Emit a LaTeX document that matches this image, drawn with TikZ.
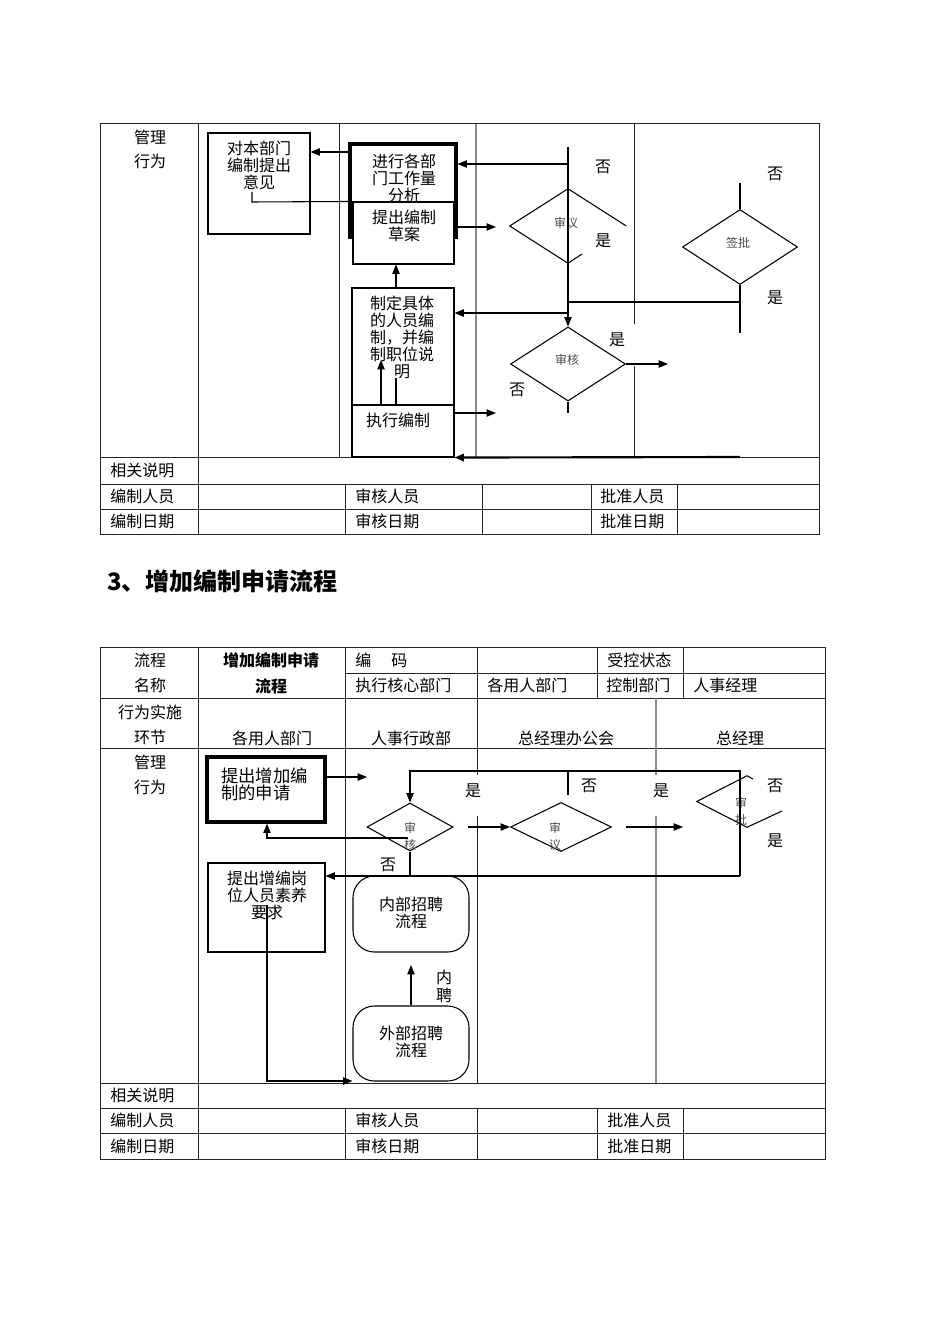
\documentclass[tikz,border=0pt]{standalone}
\usepackage{fontspec}
\setmainfont{Noto Sans CJK SC}
\usetikzlibrary{arrows.meta,shapes.geometric,fit}
\begin{document}
\begin{tikzpicture}[x=0.75pt,y=-0.75pt,
 tl/.style={line width=0.75pt, black!85},
 gl/.style={line width=0.9pt, black!45},
 ln/.style={line width=0.8pt},
 thk/.style={line width=1.6pt},
 arr/.style={ln, -{Triangle[length=7pt,width=5.5pt]}},
 bx/.style={draw, line width=0.8pt, inner sep=0pt, fill=white},
 tbx/.style={draw, line width=2.4pt, inner sep=0pt},
 rbx/.style={draw, line width=0.8pt, inner sep=0pt, rounded corners=16pt},
 t/.style={font=\fontsize{12}{12.75}\selectfont, inner sep=0pt, align=center},
 tw/.style={t, anchor=west},
 s/.style={font=\fontsize{9}{12.75}\selectfont, inner sep=0pt, align=center, text=black!70},
 dm/.style n args={2}{diamond, inner sep=0pt, minimum width=#1*0.75pt, minimum height=#2*0.75pt}
]
\useasboundingbox[fill=white] (0,0) rectangle (950,1344);

% ================= TOP TABLE =================
\draw[tl] (100,124) rectangle (819,534);
\draw[tl] (198,124) -- (198,534);
\draw[tl] (100,457) -- (819,457);
\draw[tl] (100,484) -- (819,484);
\draw[tl] (100,509) -- (819,509);
\foreach \xx in {345,482,591,677} \draw[tl] (\xx,484) -- (\xx,534);
\draw[tl] (339,124) -- (339,457);
\draw[gl] (476,124) -- (476,457);
\draw[tl] (634,124) -- (634,324);
\draw[tl] (634,366) -- (634,457);

\node[t] (gl1) at (150,137) {管理};
\node[t] (gl2) at (150,161) {行为};

% boxes
\node[bx, fit={(208,133) (310,234)}] (A) {};
\node[t] (At) at (259,165) {对本部门\\编制提出\\意见};
\node[tbx, fit={(350,144) (456,237)}] (B) {};
\node[t] (Bt) at (404,178) {进行各部\\门工作量\\分析};
\node[bx, fit={(353,202) (454,264)}] (C) {};
\node[t] (Ct) at (404,226) {提出编制\\草案};
\node[bx, fit={(352,288) (454,405)}] (D) {};
\node[t] (Dt) at (402,337) {制定具体\\的人员编\\制，并编\\制职位说\\明};
\node[bx, fit={(352,405) (454,457)}] (E) {};
\node[t] (Et) at (398,420) {执行编制};

% diamonds
\node[dm={116}{74}] (SY) at (568,226) {};
\node[s] (SYt) at (566,223) {审议};
\draw[ln] (SY.south) -- (SY.west) -- (SY.north) -- (SY.east);
\draw[ln] (SY.south) -- (582,254);
\node[dm={115}{75}, draw, ln] (QP) at (740,247) {};
\node[s] (QPt) at (738,243) {签批};
\node[dm={115}{74}, draw, ln] (SH) at (568,364) {};
\node[s] (SHt) at (567,360) {审核};

% connectors
\draw[arr] (B.west |- 0,152) -- (A.east |- 0,152);
\coordinate (a1) at (252,192);
\draw[ln] (a1) -- (252,202) -- (C.north west);
\draw[arr] (D.north -| 396,0) -- (C.south -| 396,0);
\coordinate (e1) at (381,360);
\draw[arr] (E.north -| 381,0) -- (e1);
\coordinate (e2) at (396,378);
\draw[ln] (E.north -| 396,0) -- (e2);
\coordinate (c1) at (496,227);
\draw[arr] (C.east |- 0,227) -- (c1);
\coordinate (e3) at (496,413);
\draw[arr] (E.east |- 0,413) -- (e3);
\coordinate (v1) at (568,147);
\draw[arr] (v1) -- (SH.north);
\draw[arr] (568,164) -- (B.east |- 0,164);
\draw[arr] (568,313) -- (D.east |- 0,313);
\draw[ln] (568,302) -- (740,302);
\coordinate (q1) at (740,183);
\coordinate (q2) at (740,333);
\draw[ln] (q1) -- (QP.north);
\draw[ln] (QP.south) -- (q2);
\coordinate (h1) at (568,413);
\draw[ln] (SH.south) -- (h1);
\coordinate (h2) at (668,364);
\draw[arr] (SH.east) -- (h2);
\coordinate (b1) at (740,457);
\draw[thk, -{Triangle[length=7pt,width=5.5pt]}] (b1) -- (E.south east);

% labels
\node[t] (l1) at (603,167) {否};
\node[t] (l2) at (603,241) {是};
\node[t] (l3) at (775,174) {否};
\node[t] (l4) at (775,298) {是};
\node[t] (l5) at (617,340) {是};
\node[t] (l6) at (517,390) {否};

% bottom rows
\node[tw] (r1) at (110,470) {相关说明};
\node[tw] (r2) at (110,496) {编制人员};
\node[tw] (r3) at (110,521) {编制日期};
\node[tw] (r4) at (355,496) {审核人员};
\node[tw] (r5) at (355,521) {审核日期};
\node[tw] (r6) at (600,496) {批准人员};
\node[tw] (r7) at (600,521) {批准日期};

% ================= TITLE =================
\node[anchor=west, inner sep=0pt, font=\fontsize{18}{20}\selectfont\bfseries] (title) at (107,581) {3、增加编制申请流程};

% ================= BOTTOM TABLE =================
\draw[tl] (100,647) rectangle (825,1159);
\draw[tl] (345,673) -- (825,673);
\draw[tl] (100,698) -- (825,698);
\draw[tl] (100,748) -- (825,748);
\draw[tl] (100,1083) -- (825,1083);
\draw[tl] (100,1108) -- (825,1108);
\draw[tl] (100,1133) -- (825,1133);
\draw[tl] (198,647) -- (198,1159);
\foreach \xx in {345,477,597,683} {\draw[tl] (\xx,647) -- (\xx,698); \draw[tl] (\xx,1108) -- (\xx,1159);}
\draw[tl] (345,698) -- (345,1083);
\draw[tl] (477,698) -- (477,775);
\draw[tl] (477,816) -- (477,1083);
\draw[gl] (656,698) -- (656,775);
\draw[gl] (656,816) -- (656,1083);

\node[t] (h01) at (150,660) {流程};
\node[t] (h02) at (150,685) {名称};
\node[t, font=\fontsize{12}{19.5}\selectfont\bfseries] (h03) at (271,673) {增加编制申请\\流程};
\node[tw] (h04) at (355,660) {编\hspace{15pt}码};
\node[tw] (h05) at (355,685) {执行核心部门};
\node[tw] (h06) at (487,685) {各用人部门};
\node[tw] (h07) at (607,660) {受控状态};
\node[tw] (h08) at (606,685) {控制部门};
\node[tw] (h09) at (693,685) {人事经理};
\node[t] (h10) at (150,712) {行为实施};
\node[t] (h11) at (150,737) {环节};
\node[t] (h12) at (272,738) {各用人部门};
\node[t] (h13) at (411,738) {人事行政部};
\node[t] (h14) at (566,738) {总经理办公会};
\node[t] (h15) at (740,738) {总经理};
\node[t] (h16) at (150,762) {管理};
\node[t] (h17) at (150,787) {行为};

% boxes
\node[tbx, fit={(207,757) (325,822)}] (F) {};
\node[t, align=left, anchor=west, font=\fontsize{13}{12.75}\selectfont] (Ft) at (221,784) {提出增加编\\制的申请};
\node[bx, fit={(208,863) (325,952)}] (G) {};
\node[t] (Gt) at (267,895) {提出增编岗\\位人员素养\\要求};
\node[rbx, fit={(353,876) (469,952)}] (IN) {};
\node[t] (INt) at (411,913) {内部招聘\\流程};
\node[rbx, fit={(353,1006) (469,1081)}] (OUT) {};
\node[t] (OUTt) at (411,1042) {外部招聘\\流程};

% diamonds
\node[dm={86}{48}, draw, ln] (SH2) at (410,827) {};
\node[s] (SH2t) at (410,836) {审\\核};
\node[dm={101}{49}, draw, ln] (SY2) at (561,827) {};
\node[s] (SY2t) at (555,836) {审\\议};
\node[dm={100}{51}] (SP2) at (747,801.5) {};
\draw[ln] (753,779) -- (SP2.north) -- (SP2.west) -- (SP2.south) -- (782,811);
\node[s] (SP2t) at (741,811.5) {审\\批};

% connectors
\coordinate (f1) at (367,777);
\draw[arr] (F.east |- 0,777) -- (f1);
\coordinate (k1) at (740,771);
\coordinate (k2) at (740,876);
\draw[arr] (k2) -- (k1) -- (410,771) -- (SH2.north);
\coordinate (k3) at (568,795);
\draw[ln] (568,771) -- (k3);
\draw[ln] (SH2.south) -- (410,876);
\draw[arr] (k2) -- (G.east |- 0,876);
\coordinate (k4) at (408,838);
\draw[arr] (k4) -- (267,838) -- (F.south -| 267,0);
\coordinate (k5) at (468,827);
\draw[arr] (k5) -- (SY2.west);
\coordinate (k6) at (626,827);
\coordinate (k7) at (683,827);
\draw[arr] (k6) -- (k7);
\coordinate (g1) at (267,905);
\draw[arr] (g1) -- (267,1081) -- (OUT.west |- 0,1081);
\coordinate (o1) at (411,965);
\draw[arr] (OUT.north) -- (o1);

% labels
\node[t] (m1) at (473,791) {是};
\node[t] (m2) at (388,865) {否};
\node[t] (m3) at (589,786) {否};
\node[t] (m4) at (661,791) {是};
\node[t] (m5) at (775,786) {否};
\node[t] (m6) at (775,841) {是};
\node[t, font=\fontsize{12}{13.5}\selectfont] (m7) at (444,986) {内\\聘};

% bottom rows
\node[tw] (n1) at (110,1095) {相关说明};
\node[tw] (n2) at (110,1120) {编制人员};
\node[tw] (n3) at (110,1146) {编制日期};
\node[tw] (n4) at (355,1120) {审核人员};
\node[tw] (n5) at (355,1146) {审核日期};
\node[tw] (n6) at (607,1120) {批准人员};
\node[tw] (n7) at (607,1146) {批准日期};
\end{tikzpicture}
\end{document}
